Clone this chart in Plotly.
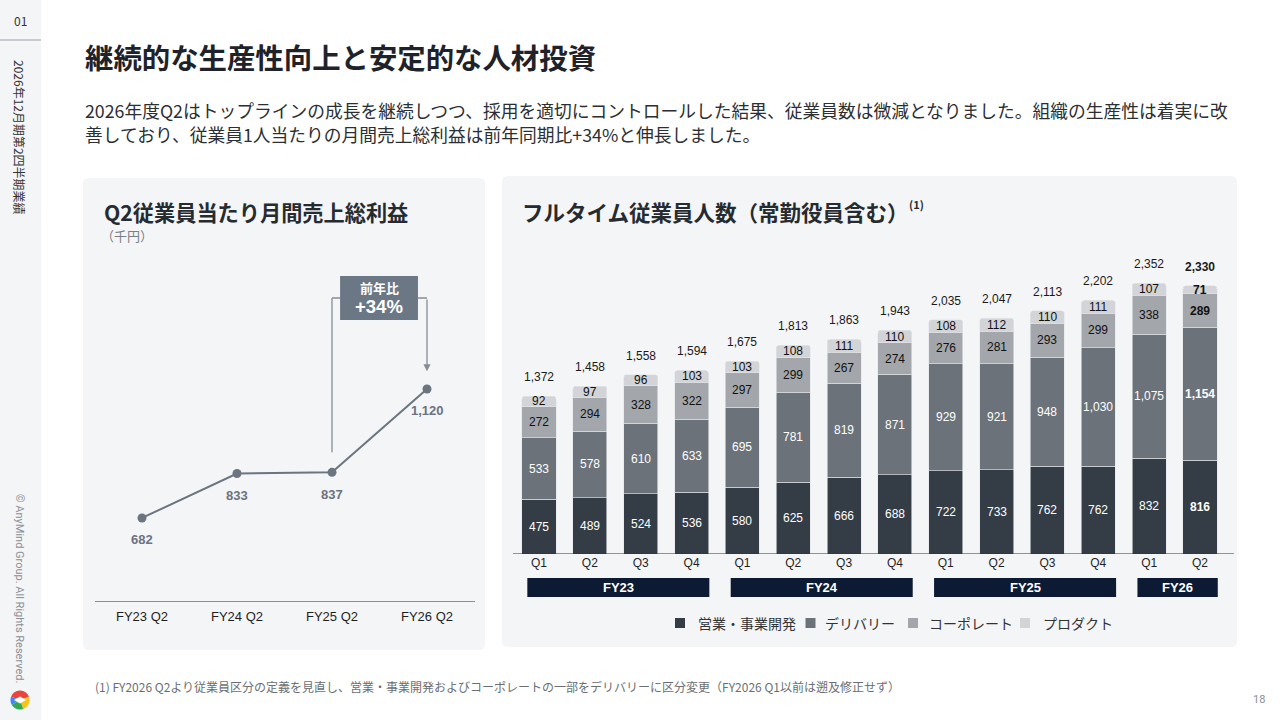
import math
import plotly.graph_objects as go

# ---------------- data ----------------
gp_categories = ["FY23 Q2", "FY24 Q2", "FY25 Q2", "FY26 Q2"]
gp_values = [682, 833, 837, 1120]

quarters = ["Q1", "Q2", "Q3", "Q4", "Q1", "Q2", "Q3", "Q4", "Q1", "Q2", "Q3", "Q4", "Q1", "Q2"]
fiscal_years = ["FY23"] * 4 + ["FY24"] * 4 + ["FY25"] * 4 + ["FY26"] * 2
series_names = ["営業・事業開発", "デリバリー", "コーポレート", "プロダクト"]
sales_bizdev = [475, 489, 524, 536, 580, 625, 666, 688, 722, 733, 762, 762, 832, 816]
delivery = [533, 578, 610, 633, 695, 781, 819, 871, 929, 921, 948, 1030, 1075, 1154]
corporate = [272, 294, 328, 322, 297, 299, 267, 274, 276, 281, 293, 299, 338, 289]
product = [92, 97, 96, 103, 103, 108, 111, 110, 108, 112, 110, 111, 107, 71]
totals = [1372, 1458, 1558, 1594, 1675, 1813, 1863, 1943, 2035, 2047, 2113, 2202, 2352, 2330]

# ---------------- styles ----------------
W, H = 1280, 720
JP = "Noto Sans CJK JP"
AR = "Liberation Sans"
series_colors = ["#343c45", "#6b7279", "#a3a7ac", "#d2d4d7"]
label_colors = ["#ffffff", "#ffffff", "#111111", "#111111"]
panel_bg = "#f4f5f7"
legend_sq_x = [680, 810.5, 913, 1025]
legend_txt_x = [696, 823, 927, 1041]


def px(x):
    return x / W


def py(y):
    return 1 - y / H


def rrect(x0, y0, x1, y1, r):
    rx, ry = r / W, r / H
    X0, X1, Y0, Y1 = px(x0), px(x1), py(y0), py(y1)
    return (f"M {X0+rx},{Y0} L {X1-rx},{Y0} Q {X1},{Y0} {X1},{Y0-ry} "
            f"L {X1},{Y1+ry} Q {X1},{Y1} {X1-rx},{Y1} L {X0+rx},{Y1} "
            f"Q {X0},{Y1} {X0},{Y1+ry} L {X0},{Y0-ry} Q {X0},{Y0} {X0+rx},{Y0} Z")


fig = go.Figure()

# ---------------- left: line chart ----------------
fig.add_trace(go.Scatter(
    x=gp_categories, y=gp_values, mode="lines+markers",
    line=dict(color="#6b7580", width=2),
    marker=dict(color="#6b7580", size=9),
    showlegend=False, hoverinfo="x+y", xaxis="x", yaxis="y"))

# ---------------- right: stacked bars ----------------
bar_keys = [f"{fy} {q}" for fy, q in zip(fiscal_years, quarters)]
all_series = [sales_bizdev, delivery, corporate, product]
for name, vals, col in zip(series_names, all_series, series_colors):
    fig.add_trace(go.Bar(
        x=bar_keys, y=vals, name=name, marker=dict(color=col, line=dict(width=0.6, color="#e4e6e9")),
        width=0.67, xaxis="x2", yaxis="y2", hoverinfo="name+y", showlegend=False))

annotations = []
shapes = []

# panels and sidebar
shapes.append(dict(type="rect", xref="paper", yref="paper", x0=0, x1=px(41), y0=0, y1=1,
                   fillcolor=panel_bg, line=dict(width=0), layer="below"))
shapes.append(dict(type="line", xref="paper", yref="paper", x0=0, x1=px(41), y0=py(40), y1=py(40),
                   line=dict(color="#9aa0a6", width=1), layer="below"))
shapes.append(dict(type="path", xref="paper", yref="paper", path=rrect(83, 178, 485, 650, 6),
                   fillcolor=panel_bg, line=dict(width=0), layer="below"))
shapes.append(dict(type="path", xref="paper", yref="paper", path=rrect(502, 176, 1237, 647, 6),
                   fillcolor=panel_bg, line=dict(width=0), layer="below"))

# right chart baseline
shapes.append(dict(type="line", xref="paper", yref="y2", x0=px(513), x1=px(1234), y0=0, y1=0,
                   line=dict(color="#333333", width=1.2)))

# logo (approximate)
cx, cy, R = 20, 700, 9.5


def wedge(a0, a1, color):
    pts = [(cx, cy)]
    n = 12
    for k in range(n + 1):
        a = math.radians(a0 + (a1 - a0) * k / n)
        pts.append((cx + R * math.cos(a), cy + R * math.sin(a)))
    path = "M " + " L ".join(f"{px(x)},{py(y)}" for x, y in pts) + " Z"
    shapes.append(dict(type="path", xref="paper", yref="paper", path=path,
                       fillcolor=color, line=dict(width=0)))


wedge(-160, -20, "#e8453c")
wedge(-20, 70, "#f5c518")
wedge(70, 150, "#34a853")
wedge(150, 200, "#4285f4")
dpts = [(cx - 6, cy), (cx, cy - 3.5), (cx + 6, cy), (cx, cy + 3.5)]
shapes.append(dict(type="path", xref="paper", yref="paper",
                   path="M " + " L ".join(f"{px(x)},{py(y)}" for x, y in dpts) + " Z",
                   fillcolor="#ffffff", line=dict(width=0)))

# bracket annotation on the line chart
br_col = "#858d96"
y_br = 1429
shapes += [
    dict(type="line", xref="x", yref="y", x0=2, x1=2, y0=905, y1=y_br, line=dict(color=br_col, width=1.3)),
    dict(type="line", xref="x", yref="y", x0=2, x1=2.09, y0=y_br, y1=y_br, line=dict(color=br_col, width=1.3)),
    dict(type="line", xref="x", yref="y", x0=2.9, x1=3, y0=y_br, y1=y_br, line=dict(color=br_col, width=1.3)),
    dict(type="rect", xref="x", yref="y", x0=2.085, x1=2.905, y0=1354, y1=1504,
         fillcolor="#6b7785", line=dict(width=0)),
]
annotations.append(dict(xref="x", yref="y", axref="x", ayref="y", x=3, y=1180, ax=3, ay=y_br,
                        showarrow=True, arrowhead=2, arrowsize=1.1, arrowwidth=1.3,
                        arrowcolor=br_col, text=""))
annotations.append(dict(xref="x", yref="y", x=2.495, y=1466, text="<b>前年比</b>", showarrow=False,
                        yanchor="middle", font=dict(family=JP, size=13, color="#ffffff")))
annotations.append(dict(xref="x", yref="y", x=2.495, y=1400, text="<b>+34%</b>", showarrow=False,
                        yanchor="middle", font=dict(family=AR, size=18.5, color="#ffffff")))

# data labels under points
for c, v in zip(gp_categories, gp_values):
    annotations.append(dict(xref="x", yref="y", x=c, y=v, yshift=-22, text=f"<b>{v:,}</b>",
                            yanchor="middle", showarrow=False,
                            font=dict(family=AR, size=13, color="#6b7280")))

# bar segment labels
n = len(bar_keys)
base = [0] * n
for s, vals in enumerate(all_series):
    for j in range(n):
        v = vals[j]
        t = f"{v:,}"
        if j == n - 1:
            t = f"<b>{t}</b>"
        annotations.append(dict(xref="x2", yref="y2", x=bar_keys[j], y=base[j] + v / 2, text=t,
                                yanchor="middle", showarrow=False,
                                font=dict(family=AR, size=12, color=label_colors[s])))
        base[j] += v
for j in range(n):
    t = f"{totals[j]:,}"
    if j == n - 1:
        t = f"<b>{t}</b>"
    annotations.append(dict(xref="x2", yref="y2", x=bar_keys[j], y=totals[j], yshift=19, text=t,
                            yanchor="middle", showarrow=False,
                            font=dict(family=AR, size=12, color="#1a1a1a")))

# fiscal year boxes
fy_list = ["FY23", "FY24", "FY25", "FY26"]
for fy in fy_list:
    idx = [i for i, f in enumerate(fiscal_years) if f == fy]
    x0, x1 = idx[0] - 0.23, idx[-1] + 0.35
    shapes.append(dict(type="rect", xref="x2", yref="paper", x0=x0, x1=x1, y0=py(597), y1=py(578),
                       fillcolor="#0c1a33", line=dict(width=0)))
    annotations.append(dict(xref="x2", yref="paper", x=(x0 + x1) / 2, y=py(587.5), text=f"<b>{fy}</b>",
                            xanchor="center", yanchor="middle", showarrow=False,
                            font=dict(family=AR, size=13, color="#ffffff")))

# manual legend
for name, col, sx, tx in zip(series_names, series_colors, legend_sq_x, legend_txt_x):
    shapes.append(dict(type="rect", xref="paper", yref="paper", x0=px(sx - 5), x1=px(sx + 5),
                       y0=py(628), y1=py(618), fillcolor=col, line=dict(width=0)))
    annotations.append(dict(xref="paper", yref="paper", x=px(tx), y=py(623), text=name, showarrow=False,
                            xanchor="left", yanchor="middle",
                            font=dict(family=JP, size=14, color="#333333")))


# texts
def txt(x, y, text, size, color, family=JP, xanchor="left", **kw):
    annotations.append(dict(xref="paper", yref="paper", x=px(x), y=py(y), text=text, showarrow=False,
                            xanchor=xanchor, yanchor="middle",
                            font=dict(family=family, size=size, color=color), **kw))


txt(83, 57, "<b>継続的な生産性向上と安定的な人材投資</b>", 28.4, "#1f2329")
txt(83, 110, "2026年度Q2はトップラインの成長を継続しつつ、採用を適切にコントロールした結果、従業員数は微減となりました。組織の生産性は着実に改", 17.75, "#2b2f33")
txt(83, 134, "善しており、従業員1人当たりの月間売上総利益は前年同期比+34%と伸長しました。", 17.75, "#2b2f33")
txt(102, 211, "<b>Q2従業員当たり月間売上総利益</b>", 21.2, "#262b30")
txt(99, 236, "（千円）", 13, "#7a7f85")
txt(520, 211, "<b>フルタイム従業員人数（常勤役員含む）</b>", 21.5, "#262b30")
txt(907, 204, "<b>(1)</b>", 11, "#262b30")
txt(20, 20, "01", 12, "#333333", xanchor="center")
txt(20, 137, "2026年12月期第2四半期業績", 12, "#333333", xanchor="center", textangle=90)
txt(20, 589, "© AnyMind Group. All Rights Reserved.", 11, "#8a8f95", family="Roboto", xanchor="center",
    textangle=90)
txt(93, 686, "(1) FY2026 Q2より従業員区分の定義を見直し、営業・事業開発およびコーポレートの一部をデリバリーに区分変更（FY2026 Q1以前は遡及修正せず）",
    12, "#6b6f74")
txt(1259, 699, "18", 11, "#8a8f95", family="Roboto", xanchor="center")

fig.update_layout(
    width=W, height=H, margin=dict(l=0, r=0, t=0, b=0),
    paper_bgcolor="#ffffff", plot_bgcolor="rgba(0,0,0,0)",
    barmode="stack", barcornerradius=3,
    showlegend=False,
    xaxis=dict(domain=[px(94.5), px(474.5)], type="category", range=[-0.5, 3.5],
               showline=True, linecolor="#8a8f96", linewidth=1, ticks="", showgrid=False, zeroline=False,
               ticklabelstandoff=3,
               tickfont=dict(family=AR, size=13, color="#1f1f1f"), fixedrange=True),
    yaxis=dict(domain=[py(601), py(250)], range=[400, 1592], visible=False, fixedrange=True),
    xaxis2=dict(domain=[px(513.6), px(1225.4)], anchor="y2", type="category", range=[-0.5, 13.5],
                tickmode="array", tickvals=bar_keys, ticktext=quarters,
                showline=False, ticks="", showgrid=False, zeroline=False,
                tickfont=dict(family=AR, size=12, color="#1f1f1f"), fixedrange=True),
    yaxis2=dict(domain=[py(554), py(250)], anchor="x2", range=[0, 2640], visible=False, fixedrange=True),
    shapes=shapes, annotations=annotations,
)

fig.write_html("out.html", config={"displayModeBar": False},
               post_script="document.body.style.margin='0';")
